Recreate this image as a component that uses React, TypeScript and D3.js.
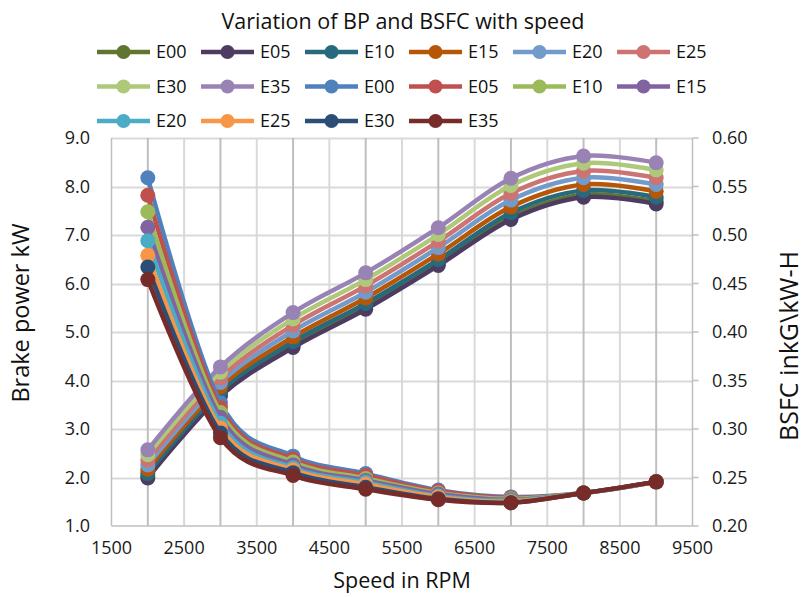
import React from "react";
import * as d3 from "d3";

const speeds = [2000, 3000, 4000, 5000, 6000, 7000, 8000, 9000];
const fuels = ["E00", "E05", "E10", "E15", "E20", "E25", "E30", "E35"];

// Brake power (kW), left axis
const bpE00 = [2.03, 3.72, 4.72, 5.52, 6.42, 7.37, 7.83, 7.69];
const bpE05 = [1.99, 3.68, 4.68, 5.47, 6.37, 7.32, 7.78, 7.64];
const bpE10 = [2.08, 3.78, 4.8, 5.59, 6.49, 7.46, 7.92, 7.78];
const bpE15 = [2.17, 3.87, 4.9, 5.7, 6.61, 7.58, 8.04, 7.9];
const bpE20 = [2.26, 3.96, 5.02, 5.82, 6.74, 7.72, 8.18, 8.04];
const bpE25 = [2.36, 4.06, 5.14, 5.95, 6.87, 7.86, 8.32, 8.18];
const bpE30 = [2.47, 4.17, 5.27, 6.08, 7.01, 8.02, 8.48, 8.34];
const bpE35 = [2.57, 4.28, 5.4, 6.22, 7.15, 8.17, 8.63, 8.49];

// BSFC (kg/kW-h), right axis
const bsfcE00 = [0.559, 0.327, 0.272, 0.254, 0.237, 0.23, 0.234, 0.2455];
const bsfcE05 = [0.541, 0.322, 0.269, 0.252, 0.236, 0.229, 0.234, 0.2455];
const bsfcE10 = [0.524, 0.317, 0.266, 0.249, 0.234, 0.228, 0.234, 0.2455];
const bsfcE15 = [0.508, 0.312, 0.263, 0.247, 0.233, 0.227, 0.234, 0.2455];
const bsfcE20 = [0.494, 0.306, 0.26, 0.245, 0.231, 0.226, 0.234, 0.2455];
const bsfcE25 = [0.479, 0.301, 0.258, 0.243, 0.23, 0.225, 0.234, 0.2455];
const bsfcE30 = [0.467, 0.296, 0.255, 0.24, 0.228, 0.224, 0.234, 0.2455];
const bsfcE35 = [0.454, 0.291, 0.252, 0.238, 0.227, 0.224, 0.234, 0.2455];

const bpColors = ["#5F7530", "#4D3B62", "#276A7D", "#B65708", "#729ACA", "#CD7371", "#AFC97A", "#9983B5"];
const bsfcColors = ["#4F81BD", "#C0504D", "#9BBB59", "#8064A2", "#4BACC6", "#F79646", "#2C4D75", "#772C2A"];

const xTicks = [1500, 2500, 3500, 4500, 5500, 6500, 7500, 8500, 9500];
const yLeftTicks = [1, 2, 3, 4, 5, 6, 7, 8, 9];
const yRightTicks = [0.2, 0.25, 0.3, 0.35, 0.4, 0.45, 0.5, 0.55, 0.6];

const bpSeries = [bpE00, bpE05, bpE10, bpE15, bpE20, bpE25, bpE30, bpE35];
const bsfcSeries = [bsfcE00, bsfcE05, bsfcE10, bsfcE15, bsfcE20, bsfcE25, bsfcE30, bsfcE35];

const FONT = "'Open Sans', 'Noto Sans', sans-serif";
const RIGHT_TITLE = "BSFC inkG\\kW-H";

export default function App() {
  const W = 806;
  const H = 597;
  const left = 111.5;
  const right = 692.5;
  const top = 138;
  const bottom = 526;

  const x = d3.scaleLinear().domain([1500, 9500]).range([left, right]);
  const yL = d3.scaleLinear().domain([1, 9]).range([bottom, top]);
  const yR = d3.scaleLinear().domain([0.2, 0.6]).range([bottom, top]);

  const curve = d3.curveCardinal.tension(0);
  const lineL = d3.line<number>().x((_, i) => x(speeds[i])).y((d) => yL(d)).curve(curve);
  const lineR = d3.line<number>().x((_, i) => x(speeds[i])).y((d) => yR(d)).curve(curve);

  const minorX = d3.range(2000, 9500, 500);

  const legendItems = [
    ...fuels.map((f, i) => ({ label: f, color: bpColors[i] })),
    ...fuels.map((f, i) => ({ label: f, color: bsfcColors[i] })),
  ];

  const MR = 7.5;
  const LW = 4.5;

  return (
    <div style={{ position: "fixed", left: 0, top: 0 }}>
      <svg width={W} height={H} style={{ display: "block", background: "#fff" }} fontFamily={FONT}>
        {/* gridlines */}
        {yLeftTicks.slice(1).map((t) => (
          <line key={"hg" + t} x1={left} x2={right} y1={Math.round(yL(t)) + 0.5} y2={Math.round(yL(t)) + 0.5} stroke="#d9d9d9" strokeWidth={2} />
        ))}
        {minorX.map((t) => (
          <line key={"vg" + t} x1={x(t)} x2={x(t)} y1={top} y2={bottom} stroke={t % 1000 === 0 ? "#bfbfbf" : "#d9d9d9"} strokeWidth={2} />
        ))}
        {/* axes */}
        <line x1={left} x2={left} y1={top} y2={bottom} stroke="#bfbfbf" strokeWidth={1.5} />
        <line x1={left} x2={right} y1={bottom} y2={bottom} stroke="#bfbfbf" strokeWidth={1.5} />
        <line x1={right} x2={right} y1={top} y2={bottom} stroke="#bfbfbf" strokeWidth={1.5} />
        {yRightTicks.map((t) => (
          <line key={"rt" + t} x1={right} x2={right + 6} y1={yR(t)} y2={yR(t)} stroke="#bfbfbf" strokeWidth={1.5} />
        ))}

        {/* tick labels */}
        {yLeftTicks.map((t) => (
          <text key={"yl" + t} x={90} y={yL(t)} dy="0.35em" textAnchor="end" fontSize={18} fill="#1a1a1a">
            {d3.format(".1f")(t)}
          </text>
        ))}
        {yRightTicks.map((t) => (
          <text key={"yr" + t} x={712} y={yR(t)} dy="0.35em" textAnchor="start" fontSize={18} fill="#1a1a1a">
            {d3.format(".2f")(t)}
          </text>
        ))}
        {xTicks.map((t) => (
          <text key={"xt" + t} x={x(t)} y={554} textAnchor="middle" fontSize={18} fill="#1a1a1a">
            {t}
          </text>
        ))}

        {/* axis titles */}
        <text x={402} y={588} textAnchor="middle" fontSize={21.5} fill="#111">Speed in RPM</text>
        <text transform="translate(29,313) rotate(-90)" textAnchor="middle" fontSize={23.5} fill="#111">Brake power kW</text>
        <text transform="translate(798,346) rotate(-90)" textAnchor="middle" fontSize={25} fill="#111">{RIGHT_TITLE}</text>

        {/* title */}
        <text x={403} y={29} textAnchor="middle" fontSize={21.5} fill="#111">Variation of BP and BSFC with speed</text>

        {/* BP series */}
        {bpSeries.map((s, si) => (
          <g key={"bp" + si}>
            <path d={lineL(s) || ""} fill="none" stroke={bpColors[si]} strokeWidth={LW} strokeLinejoin="round" strokeLinecap="round" />
            {s.map((v, i) => (
              <circle key={i} cx={x(speeds[i])} cy={yL(v)} r={MR} fill={bpColors[si]} />
            ))}
          </g>
        ))}
        {/* BSFC series */}
        {bsfcSeries.map((s, si) => (
          <g key={"bs" + si}>
            <path d={lineR(s) || ""} fill="none" stroke={bsfcColors[si]} strokeWidth={LW} strokeLinejoin="round" strokeLinecap="round" />
            {s.map((v, i) => (
              <circle key={i} cx={x(speeds[i])} cy={yR(v)} r={MR} fill={bsfcColors[si]} />
            ))}
          </g>
        ))}

        {/* legend */}
        {legendItems.map((it, i) => {
          const col = i % 6;
          const row = Math.floor(i / 6);
          const lx = 97 + col * 104;
          const ly = 52 + row * 34.5;
          return (
            <g key={"lg" + i}>
              <line x1={lx} x2={lx + 53} y1={ly} y2={ly} stroke={it.color} strokeWidth={LW} />
              <circle cx={lx + 26.5} cy={ly} r={7} fill={it.color} />
              <text x={lx + 59} y={ly} dy="0.36em" fontSize={18} fill="#111">{it.label}</text>
            </g>
          );
        })}
      </svg>
    </div>
  );
}
